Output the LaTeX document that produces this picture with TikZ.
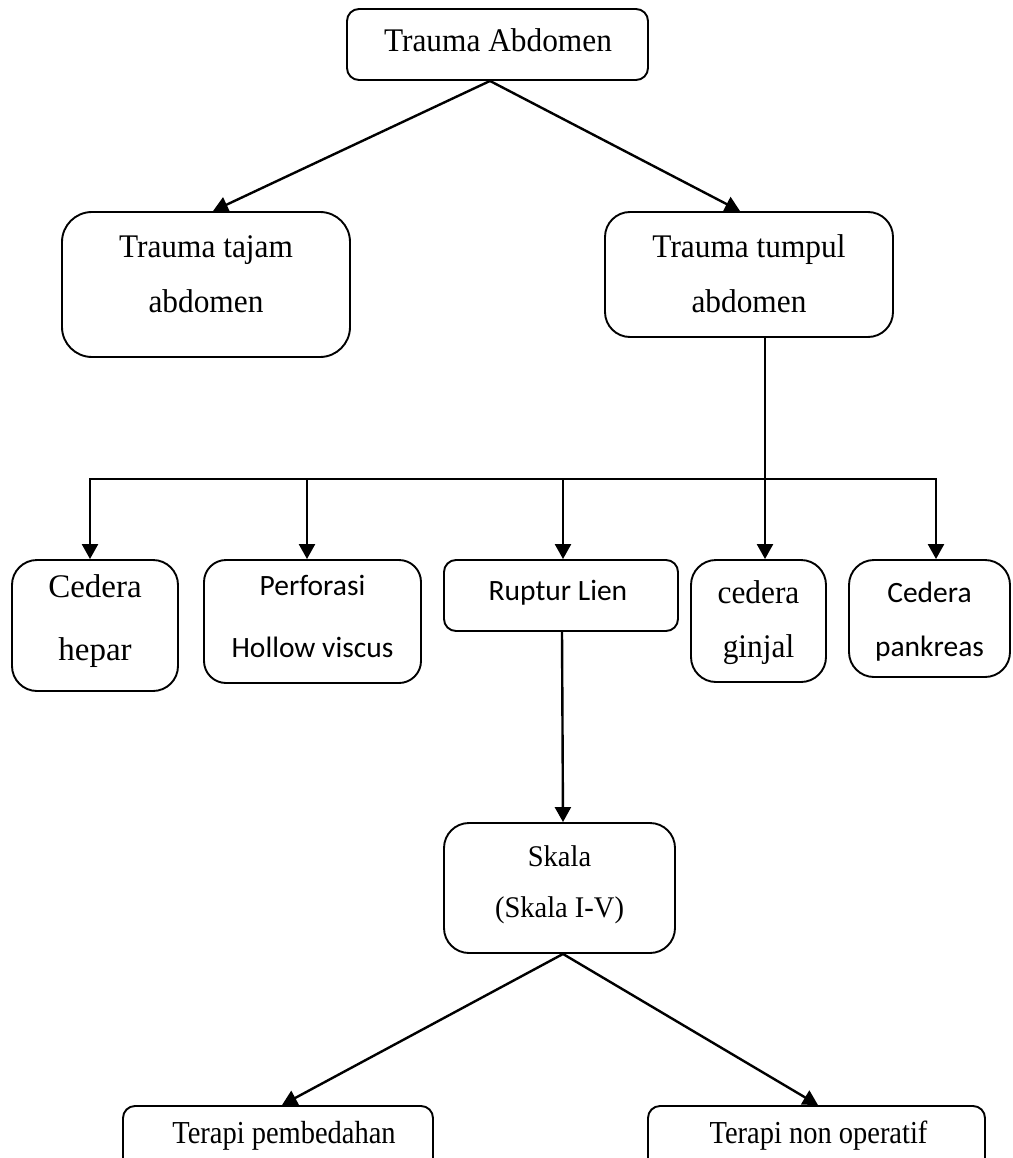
\documentclass[tikz,border=0pt]{standalone}
\usepackage{fontspec}
\setmainfont{Liberation Serif}
\newfontfamily\calfont{Carlito}
\newfontfamily\tallserif{Liberation Serif}[FakeStretch=0.95]
\newfontfamily\narrowserif{Liberation Serif}[FakeStretch=0.89]
\usetikzlibrary{arrows.meta}
\begin{document}
\begin{tikzpicture}[x=1pt,y=-1pt,
  box/.style={draw, line width=1.9pt, inner sep=0pt, rounded corners=#1},
  box/.default=20pt,
  txt/.style={inner sep=0pt, align=center},
  conn/.style={line width=2.4pt},
  arr/.style={conn, -{Triangle[length=15pt,width=16pt]}}]
\useasboundingbox (0,0) rectangle (1012,1158);
\clip (0,0) rectangle (1012,1158);
% boxes
\node[box=12pt, minimum width=301pt, minimum height=71pt]  (abd)    at (497.5,44.5) {};
\node[box=30pt, minimum width=288pt, minimum height=145pt] (tajam)  at (206,284.5) {};
\node[box=25pt, minimum width=288pt, minimum height=125pt] (tumpul) at (749,274.5) {};
\node[box=25pt, minimum width=166pt, minimum height=131pt] (hepar)  at (95,625.5) {};
\node[box=22pt, minimum width=217pt, minimum height=123pt] (perf)   at (312.5,621.5) {};
\node[box=12pt, minimum width=234pt, minimum height=71pt]  (ruptur) at (561,595.5) {};
\node[box=25pt, minimum width=135pt, minimum height=122pt] (ginjal) at (758.5,621) {};
\node[box=25pt, minimum width=161pt, minimum height=117pt] (pank)   at (929.5,618.5) {};
\node[box=25pt, minimum width=231pt, minimum height=130pt] (skala)  at (559.5,888) {};
\node[box=12pt, minimum width=310pt, minimum height=80pt]  (ter1)   at (278,1146) {};
\node[box=12pt, minimum width=337pt, minimum height=80pt]  (ter2)   at (816.5,1146) {};
% texts
\node[txt, anchor=base, font=\tallserif\fontsize{33}{55}\selectfont] (abdT) at (498,52) {Trauma Abdomen};
\node[txt, font=\tallserif\fontsize{33}{55}\selectfont] (tajamT) at (206,274.3) {Trauma tajam\\abdomen};
\node[txt, font=\tallserif\fontsize{33}{55}\selectfont] (tumpulT) at (749,273.5) {Trauma tumpul\\abdomen};
\node[txt, font=\fontsize{33}{63}\selectfont] (hepT) at (95,621) {Cedera\\hepar};
\node[txt, font=\calfont\fontsize{29.5}{62}\selectfont] (perfT) at (312.5,616) {Perforasi\\Hollow viscus};
\node[txt, anchor=base, font=\calfont\fontsize{29.5}{35}\selectfont] (rupT) at (558,600) {Ruptur Lien};
\node[txt, font=\tallserif\fontsize{33}{54}\selectfont] (ginT) at (758.5,622.4) {cedera\\ginjal};
\node[txt, font=\calfont\fontsize{29.5}{54}\selectfont] (pankT) at (929.5,622) {Cedera\\pankreas};
\node[txt, font=\tallserif\fontsize{30}{51}\selectfont] (skT) at (559.5,885) {Skala\\(Skala I-V)};
\node[txt, anchor=base, font=\narrowserif\fontsize{32}{37}\selectfont] (ter1T) at (284,1143) {Terapi pembedahan};
\node[txt, anchor=base, font=\narrowserif\fontsize{32}{37}\selectfont] (ter2T) at (818.5,1143) {Terapi non operatif};
% connectors
\coordinate (aS) at ([xshift=-7.5pt]abd.south);
\draw[arr] (aS) -- ([xshift=7pt]tajam.north);
\draw[arr] (aS) -- ([xshift=-9pt]tumpul.north);
\coordinate (tb) at ([xshift=16pt]tumpul.south);
\draw[arr] (tb) -- (tb |- ginjal.north);
\coordinate (bus) at (0,479);
\coordinate (hN) at ([xshift=-5pt]hepar.north);
\coordinate (pN) at ([xshift=-5.5pt]perf.north);
\coordinate (rN) at ([xshift=2pt]ruptur.north);
\coordinate (kN) at ([xshift=6.5pt]pank.north);
\draw[arr] (rN |- bus) -| (hN);
\draw[arr] (rN |- bus) -| (kN);
\draw[arr] (pN |- bus) -- (pN);
\draw[arr] (rN |- bus) -- (rN);
\draw[arr] ([xshift=1pt]ruptur.south) -- ([xshift=3.5pt]skala.north);
\coordinate (sS) at ([xshift=3.5pt]skala.south);
\draw[arr] (sS) -- ([xshift=4pt]ter1.north);
\draw[arr] (sS) -- ([xshift=1.5pt]ter2.north);
\end{tikzpicture}
\end{document}
